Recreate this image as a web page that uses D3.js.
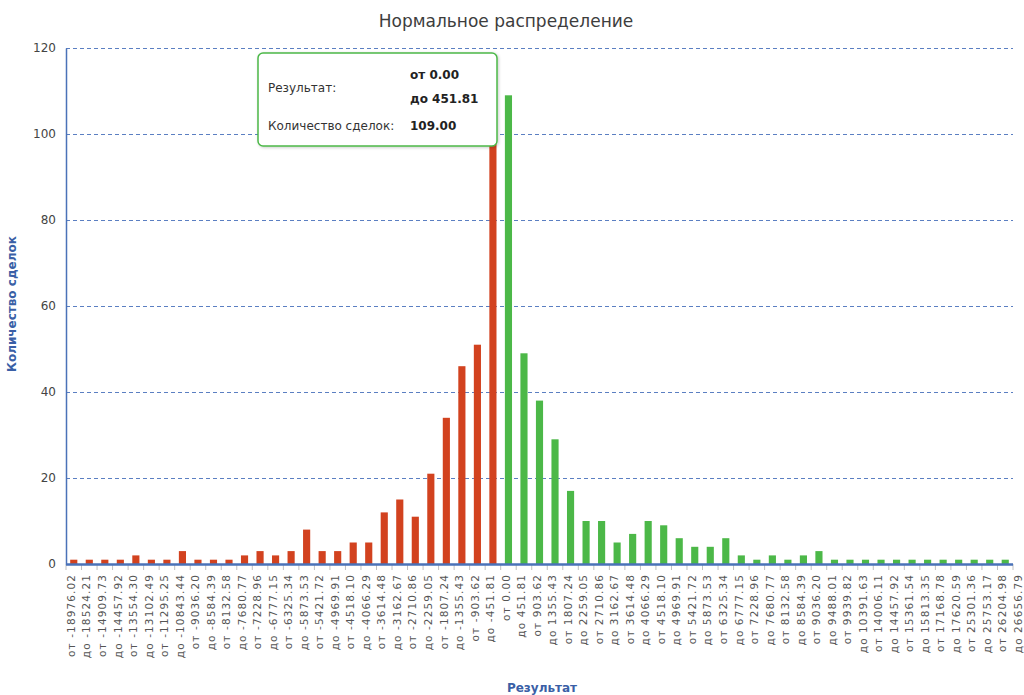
<!DOCTYPE html>
<html>
<head>
<meta charset="utf-8">
<script src="https://cdn.jsdelivr.net/npm/d3@7"></script>
<style>
  html, body { margin: 0; padding: 0; background: #fff; }
  svg { display: block; font-family: "DejaVu Sans", Verdana, sans-serif; }
</style>
</head>
<body>
<svg id="chart" width="1024" height="695"></svg>
<script>
// ---- data ----
const lossLabels = ["от -18976.02","до -18524.21","от -14909.73","до -14457.92","от -13554.30","до -13102.49","от -11295.25","до -10843.44","от -9036.20","до -8584.39","от -8132.58","до -7680.77","от -7228.96","до -6777.15","от -6325.34","до -5873.53","от -5421.72","до -4969.91","от -4518.10","до -4066.29","от -3614.48","до -3162.67","от -2710.86","до -2259.05","от -1807.24","до -1355.43","от -903.62","до -451.81"];
const profitLabels = ["от 0.00","до 451.81","от 903.62","до 1355.43","от 1807.24","до 2259.05","от 2710.86","до 3162.67","от 3614.48","до 4066.29","от 4518.10","до 4969.91","от 5421.72","до 5873.53","от 6325.34","до 6777.15","от 7228.96","до 7680.77","от 8132.58","до 8584.39","от 9036.20","до 9488.01","от 9939.82","до 10391.63","от 14006.11","до 14457.92","от 15361.54","до 15813.35","от 17168.78","до 17620.59","от 25301.36","до 25753.17","от 26204.98","до 26656.79"];
const lossCounts = [1,1,1,1,2,1,1,3,1,1,1,2,3,2,3,8,3,3,5,5,12,15,11,21,34,46,51,100];
const profitCounts = [109,49,38,29,17,10,10,5,7,10,9,6,4,4,6,2,1,2,1,2,3,1,1,1,1,1,1,1,1,1,1,1,1];
const yTicks = [0,20,40,60,80,100,120];
const titleText = "Нормальное распределение";
const yTitle = "Количество сделок";
const xTitle = "Результат";
const tooltipRange = ["от 0.00", "до 451.81"];
const tooltipCount = "109.00";

// ---- build ----
const labels = lossLabels.concat(profitLabels);
const bars = lossCounts.map((v, i) => ({i, v, s: "loss"}))
  .concat(profitCounts.map((v, i) => ({i: i + lossCounts.length, v, s: "profit"})));
const colors = {loss: "#d2421f", profit: "#4cb848"};

const pLeft = 66, pRight = 1013, pTop = 48, pBottom = 564;
const nBars = bars.length;
const step = (pRight - pLeft) / nBars;

const x = d3.scaleBand()
  .domain(d3.range(labels.length))
  .range([pLeft, pLeft + step * labels.length])
  .paddingInner(0.54).paddingOuter(0.27);
const y = d3.scaleLinear().domain([0, 120]).range([pBottom, pTop]);

const svg = d3.select("#chart");

// title
svg.append("text").attr("x", 506).attr("y", 27).attr("text-anchor", "middle")
  .attr("font-size", 17).attr("fill", "#3d3d3d").text(titleText);

// gridlines
svg.append("g").selectAll("line").data(yTicks.filter(t => t > 0)).join("line")
  .attr("x1", pLeft).attr("x2", pRight)
  .attr("y1", d => y(d) + 0.5).attr("y2", d => y(d) + 0.5)
  .attr("stroke", "#5b7fc2").attr("stroke-width", 1.2).attr("stroke-dasharray", "4,3");

// y axis
const yAxis = d3.axisLeft(y).tickValues(yTicks).tickSize(0).tickPadding(10);
const yg = svg.append("g").attr("transform", `translate(${pLeft},0)`).call(yAxis);
yg.select(".domain").attr("stroke", "#4a72b8").attr("stroke-width", 1.5);
yg.selectAll("text").attr("font-size", 12).attr("fill", "#444").attr("font-family", "DejaVu Sans, Verdana, sans-serif");

// bars
svg.append("g").selectAll("rect").data(bars).join("rect")
  .attr("x", d => x(d.i)).attr("width", x.bandwidth())
  .attr("y", d => y(d.v)).attr("height", d => pBottom - y(d.v))
  .attr("fill", d => colors[d.s]);

// x axis ticks at category boundaries
const boundaries = d3.range(nBars + 1).map(k => pLeft + k * step);
svg.append("g").selectAll("line").data(boundaries).join("line")
  .attr("x1", d => d).attr("x2", d => d).attr("y1", pBottom).attr("y2", pBottom + 6)
  .attr("stroke", "#c0c0c0").attr("stroke-width", 1);
svg.append("line").attr("x1", pLeft).attr("x2", pRight)
  .attr("y1", pBottom + 0.5).attr("y2", pBottom + 0.5)
  .attr("stroke", "#4a72b8").attr("stroke-width", 2.5);

// x labels
svg.append("g").selectAll("text").data(labels).join("text")
  .attr("transform", (d, i) => `translate(${x(i) + x.bandwidth() / 2 - 2.5},574) rotate(-90)`)
  .attr("text-anchor", "end").attr("dy", "0.35em")
  .attr("font-size", 10.5).attr("letter-spacing", 1.1).attr("fill", "#555")
  .text(d => d);

// axis titles
svg.append("text").attr("transform", "translate(16,304) rotate(-90)")
  .attr("text-anchor", "middle").attr("font-size", 12).attr("font-weight", "bold")
  .attr("fill", "#3a5fa6").text(yTitle);
svg.append("text").attr("x", 542).attr("y", 692).attr("text-anchor", "middle")
  .attr("font-size", 12).attr("font-weight", "bold").attr("fill", "#3a5fa6").text(xTitle);

// tooltip
const defs = svg.append("defs");
const f = defs.append("filter").attr("id", "sh").attr("x", "-10%").attr("y", "-10%").attr("width", "130%").attr("height", "140%");
f.append("feDropShadow").attr("dx", 1).attr("dy", 1).attr("stdDeviation", 1.5).attr("flood-color", "#000").attr("flood-opacity", 0.2);
const tt = svg.append("g").attr("transform", "translate(258,53)");
tt.append("rect").attr("width", 239).attr("height", 93).attr("rx", 5)
  .attr("fill", "#fff").attr("stroke", "#4cb848").attr("stroke-width", 1.5).attr("filter", "url(#sh)");
tt.append("text").attr("x", 10).attr("y", 39).attr("font-size", 12).attr("fill", "#333").text("Результат:");
tt.append("text").attr("x", 152).attr("y", 26).attr("font-size", 12).attr("font-weight", "bold").attr("fill", "#222").text(tooltipRange[0]);
tt.append("text").attr("x", 152).attr("y", 50).attr("font-size", 12).attr("font-weight", "bold").attr("fill", "#222").text(tooltipRange[1]);
tt.append("text").attr("x", 10).attr("y", 77).attr("font-size", 12).attr("fill", "#333").text("Количество сделок:");
tt.append("text").attr("x", 152).attr("y", 77).attr("font-size", 12).attr("font-weight", "bold").attr("fill", "#222").text(tooltipCount);
</script>
</body>
</html>
